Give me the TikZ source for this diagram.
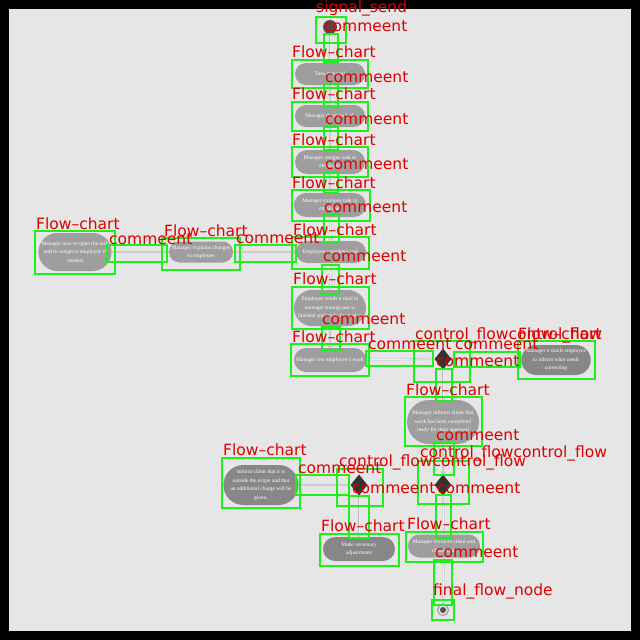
\documentclass[tikz,border=0pt]{standalone}
\usepackage{fontspec}
\setmainfont{Liberation Serif}
\newfontfamily\tagfont{DejaVu Sans}
\usetikzlibrary{arrows.meta,positioning,shapes.geometric,shapes.misc}
\definecolor{canvas}{HTML}{E6E6E6}
\definecolor{actfill}{HTML}{9E9E9E}
\definecolor{actdark}{HTML}{878787}
\definecolor{decfill}{HTML}{333333}
\definecolor{startfill}{HTML}{5A4646}
\definecolor{boxgreen}{HTML}{1EF01E}
\definecolor{tagred}{HTML}{E00000}

\begin{document}
\begin{tikzpicture}[x=1pt,y=-1pt,
  act/.style={rounded rectangle,fill=actfill,text=white,align=center,
              inner sep=0pt,font=\fontsize{5.5}{8.5}\selectfont},
  actd/.style={act,fill=actdark},
  decision/.style={diamond,fill=decfill,minimum width=17pt,minimum height=21pt,inner sep=0pt},
  flow/.style={draw=gray!55,double=gray!12,double distance=0.9pt,
               -{Straight Barb[length=2.5pt,width=5pt]}},
  gbox/.style={draw=boxgreen,line width=2.2pt},
  tag/.style={text=tagred,font=\tagfont\fontsize{15.5}{15.5}\selectfont,
              anchor=base west,inner sep=0pt}
]
\useasboundingbox (0,0) rectangle (640,640);
\fill[black] (0,0) rectangle (640,640);
\fill[canvas] (9,9) rectangle (631,631);

% main column
\node[circle,fill=startfill,minimum size=14pt,inner sep=0pt] (start) at (330,27) {};
\node[act,minimum width=70pt,minimum height=22pt] (task) at (330,74) {Task received};
\node[act,minimum width=70pt,minimum height=22pt] (receive) at (330,116) {Manager receives task};
\node[act,minimum width=70pt,minimum height=24pt] (assign) at (330,162) {Manager assigns task to\\employee};
\node[act,minimum width=72pt,minimum height=24pt] (explain) at (330,205) {Manager explains task to\\employee};
\node[act,minimum width=70pt,minimum height=22pt] (complete) at (331,252) {Employee completes task};
\node[act,minimum width=70pt,minimum height=36pt] (email) at (330,308) {Employee sends e-mail to\\manager stating task is\\finished and ready for testing};
\node[act,minimum width=72pt,minimum height=24pt] (test) at (330,360) {Manager test employee's work};
% rework branch
\node[act,minimum width=66pt,minimum height=38pt] (reopen) at (75,252) {Manager may re-open the task\\and re-assign to employee if\\needed};
\node[act,minimum width=64pt,minimum height=21pt] (changes) at (201,252) {Manager explains changes\\to employee};
% decisions
\node[decision] (check) at (443,359) {};
\node[actd,minimum width=68pt,minimum height=30pt] (correct) at (556,360) {Manager e-mails employee\\to inform what needs\\correcting};
\node[act,minimum width=72pt,minimum height=44pt] (inform) at (443,422) {Manager informs client that\\work has been completed\\ready for their approval};
\node[decision] (approve) at (443,485) {};
\node[decision] (scope) at (359,485) {};
\node[actd,minimum width=72pt,minimum height=40pt] (outscope) at (261,485) {Inform client that it is\\outside the scope and that\\an additional charge will be\\given.};
\node[actd,minimum width=72pt,minimum height=24pt] (adjust) at (359,549) {Make necessary\\adjustments};
\node[act,minimum width=72pt,minimum height=23pt] (invoice) at (444,546) {Manager invoices client and\\closes task};
\node[circle,draw=gray!75,line width=1.2pt,fill=canvas,minimum size=11pt,inner sep=0pt,
      path picture={\fill[decfill!85] (path picture bounding box.center) circle (3pt);}] (final) at (443,610) {};

\draw[flow] (start) -- (task);
\draw[flow] (task) -- (receive);
\draw[flow] (receive) -- (assign);
\draw[flow] (assign) -- (explain);
\draw[flow] (explain) -- (complete);
\draw[flow] (complete) -- (email);
\draw[flow] (email) -- (test);
\draw[flow] (test) -- (check);
\draw[flow] (check) -- (correct);
\draw[flow] (check) -- (inform);
\draw[flow] (inform) -- (approve);
\draw[flow] (approve) -- (invoice);
\draw[flow] (invoice) -- (final);
\draw[flow] (outscope) -- (scope);
\draw[flow] (scope) -- (adjust);
\draw[flow] (reopen) -- (changes);
\draw[flow] (changes) -- (complete);

% detection boxes
\foreach \xa/\ya/\xb/\yb in {316/17/346/43, 324/34/338/62, 292/60/368/88, 324/84/338/107,
    292/102/368/131, 324/127/338/150, 292/147/368/177, 324/172/338/193, 292/190/370/221,
    324/214/339/243, 292/237/369/269, 322/265/339/294, 292/287/369/329, 322/327/340/350,
    291/344/369/376, 366/351/433/366, 414/341/470/382, 454/352/520/367, 518/341/595/379,
    436/369/452/401, 405/397/482/446, 434/443/454/475, 418/461/469/504, 436/495/451/538,
    406/532/483/562, 434/560/452/605, 432/600/454/620, 337/469/383/506, 296/475/349/495,
    222/458/300/508, 349/496/369/538, 320/534/399/566, 35/231/115/274, 107/245/167/262,
    162/238/240/270, 235/245/296/262}
  \draw[gbox] (\xa,\ya) rectangle (\xb,\yb);

% detection labels
\foreach \x/\y/\t [count=\i] in {316/12/signal\_send, 324/31/commeent, 292/57/Flow–chart,
    325/82/commeent, 292/99/Flow–chart, 325/124/commeent, 292/145/Flow–chart,
    325/169/commeent, 292/188/Flow–chart, 324/212/commeent, 36/229/Flow–chart,
    164/236/Flow–chart, 293/235/Flow–chart, 109/244/commeent, 236/243/commeent,
    323/261/commeent, 293/284/Flow–chart, 322/324/commeent, 292/342/Flow–chart,
    415/339/control\_flowcontrol\_flow, 518/339/Flow–chart, 368/349/commeent,
    455/349/commeent, 436/366/commeent, 406/395/Flow–chart, 436/440/commeent,
    420/457/control\_flowcontrol\_flow, 339/466/control\_flowcontrol\_flow,
    223/455/Flow–chart, 298/473/commeent, 352/493/commeent, 437/493/commeent,
    321/531/Flow–chart, 407/529/Flow–chart, 435/557/commeent, 433/595/final\_flow\_node}
  \node[tag] (tag\i) at (\x,\y) {\t};
\end{tikzpicture}
\end{document}
